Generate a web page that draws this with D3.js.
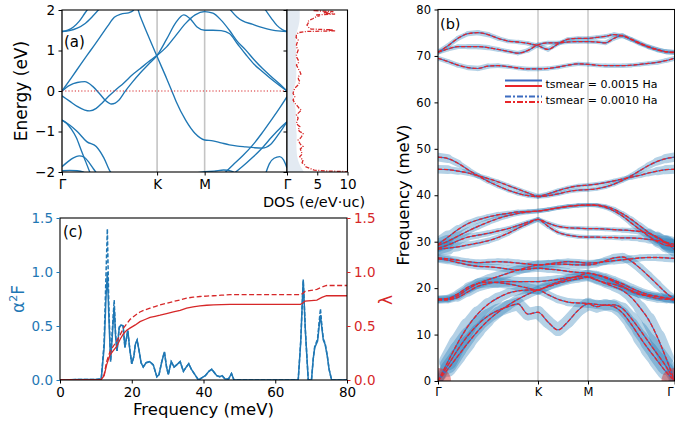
<!DOCTYPE html>
<html><head><meta charset="utf-8">
<script src="https://cdn.jsdelivr.net/npm/d3@7/dist/d3.min.js"></script>
<style>
html,body{margin:0;padding:0;background:#fff;}
svg{display:block;font-family:"DejaVu Sans",sans-serif;}
</style></head><body>
<svg id="fig" width="675" height="430"></svg>
<script>
// ---------------- (a) electronic bands along Γ–K–M–Γ (k in units of |ΓK|) ----------------
const kTicks = [0, 1, 1.5, 2.366];
const kLabels = ["Γ", "K", "M", "Γ"];
const energyTicks = [-2, -1, 0, 1, 2];

const bandA = [[0,0],[0.1,0.33],[0.2,0.67],[0.3,1.0],[0.4,1.33],[0.48,1.6],[0.55,1.82],[0.62,1.9],[0.7,1.93],[0.75,1.99],[0.78,2.1],[0.82,1.86],[0.9,1.4],[1.0,0.85],[1.1,0.31],[1.155,0],[1.2,-0.26],[1.3,-0.72],[1.4,-1.05],[1.5,-1.21],[1.587,-1.23],[1.673,-1.28],[1.76,-1.33],[1.846,-1.36],[1.933,-1.38],[2.02,-1.4],[2.106,-1.41],[2.193,-1.32],[2.28,-1.06],[2.366,-0.76]];
const bandB = [[0,0],[0.08,0.14],[0.16,0.21],[0.24,0.23],[0.32,0.12],[0.4,-0.08],[0.46,-0.24],[0.52,-0.32],[0.6,-0.22],[0.66,-0.02],[0.74,0.22],[0.82,0.44],[0.91,0.66],[1.0,0.88],[1.1,1.28],[1.2,1.7],[1.28,1.88],[1.35,1.78],[1.42,1.58],[1.5,1.5],[1.587,1.5],[1.673,1.49],[1.76,1.42],[1.846,1.16],[1.933,0.9],[2.02,0.66],[2.106,0.48],[2.193,0.31],[2.28,0.15],[2.366,0]];
const bandC = [[0,-0.12],[0.08,-0.25],[0.16,-0.38],[0.24,-0.47],[0.29,-0.49],[0.36,-0.43],[0.42,-0.3],[0.49,-0.13],[0.56,0.02],[0.65,0.2],[0.74,0.4],[0.82,0.55],[0.91,0.72],[1.0,0.88],[1.1,1.09],[1.2,1.38],[1.3,1.67],[1.4,1.88],[1.5,1.96],[1.587,1.92],[1.673,1.75],[1.76,1.5],[1.846,1.22],[1.933,1.01],[2.02,0.77],[2.106,0.56],[2.193,0.37],[2.28,0.19],[2.366,0]];
const bandD = [[1.74,2.1],[1.78,1.98],[1.84,1.83],[1.9,1.73],[2.0,1.65],[2.1,1.57],[2.2,1.51],[2.3,1.48],[2.366,1.47]];
const bandE = [[2.1,2.15],[2.14,2.0],[2.2,1.8],[2.26,1.62],[2.32,1.51],[2.366,1.47]];
const bandF1 = [[0,1.47],[0.06,1.5],[0.12,1.58],[0.18,1.72],[0.24,1.92],[0.28,2.05]];
const bandF2 = [[0,1.47],[0.08,1.49],[0.16,1.55],[0.24,1.66],[0.32,1.84],[0.39,2.02]];
const bandG1 = [[0,-0.72],[0.05,-0.8],[0.1,-0.95],[0.15,-1.15],[0.2,-1.45],[0.25,-1.75],[0.3,-2.05]];
const bandG2 = [[0,-0.72],[0.08,-0.84],[0.16,-1.0],[0.26,-1.25],[0.36,-1.37],[0.44,-1.65],[0.51,-2.0],[0.53,-2.05]];
const bandH = [[0,-1.87],[0.06,-1.75],[0.12,-1.65],[0.18,-1.6],[0.23,-1.63],[0.28,-1.75],[0.33,-1.92],[0.37,-2.05]];
const bandI = [[0,-1.97],[0.08,-1.96],[0.16,-1.97],[0.22,-2.0],[0.26,-2.05]];
const bandJ = [[1.7,-2.05],[1.8,-1.82],[1.9,-1.6],[2.0,-1.35],[2.1,-1.05],[2.2,-0.72],[2.3,-0.38],[2.366,-0.14]];
const bandK = [[1.8,-2.05],[1.9,-1.86],[2.0,-1.65],[2.1,-1.42],[2.2,-1.15],[2.3,-0.9],[2.366,-0.76]];
const bandL = [[2.14,-2.05],[2.18,-1.8],[2.23,-1.66],[2.29,-1.62],[2.33,-1.7],[2.366,-1.9]];
const bandM = [[1.4,-2.03],[1.5,-1.99],[1.6,-1.98],[1.7,-1.95],[1.78,-1.98],[1.84,-2.05]];
const electronBands = [bandA,bandB,bandC,bandD,bandE,bandF1,bandF2,bandG1,bandG2,bandH,bandI,bandJ,bandK,bandL,bandM];

// density of states (energy, e/eV·uc)
const dosCurve = [[-2.0,10.2],[-1.99,9.9],[-1.975,6.5],[-1.955,4.5],[-1.91,3.78],[-1.87,3.1],[-1.83,2.95],[-1.77,2.5],[-1.7,2.67],[-1.66,2.3],[-1.62,2.12],[-1.56,2.5],[-1.5,2.39],[-1.43,2.2],[-1.37,2.67],[-1.33,2.3],[-1.29,2.12],[-1.21,1.84],[-1.17,2.2],[-1.13,2.39],[-1.05,2.67],[-1.0,2.1],[-0.96,1.84],[-0.88,2.12],[-0.84,1.8],[-0.8,1.56],[-0.73,1.7],[-0.67,1.84],[-0.59,1.56],[-0.51,2.12],[-0.47,2.39],[-0.43,2.0],[-0.39,1.84],[-0.3,1.28],[-0.22,1.0],[-0.14,1.28],[-0.06,1.0],[0.0,1.1],[0.07,1.28],[0.15,1.84],[0.23,2.12],[0.29,1.9],[0.35,1.84],[0.42,2.3],[0.48,2.12],[0.56,1.84],[0.64,1.56],[0.7,1.9],[0.77,1.84],[0.83,1.6],[0.89,1.56],[0.95,1.7],[1.01,1.84],[1.08,1.6],[1.14,1.56],[1.2,1.7],[1.26,1.84],[1.32,1.5],[1.38,1.56],[1.44,1.84],[1.47,3.2],[1.485,7.95],[1.5,7.0],[1.51,7.6],[1.53,4.0],[1.55,3.7],[1.59,3.5],[1.63,3.3],[1.67,3.5],[1.71,3.4],[1.75,3.78],[1.79,4.34],[1.83,4.8],[1.86,5.45],[1.88,4.7],[1.9,7.95],[1.92,6.5],[1.935,6.0],[1.95,7.2],[1.96,7.67],[1.975,5.5],[1.985,4.34],[2.0,5.0]];
const dosShade = [[-2.0,2.8],[-1.95,2.6],[-1.85,2.2],[-1.7,1.8],[-1.5,1.6],[-1.3,1.55],[-1.1,1.6],[-0.9,1.5],[-0.7,1.45],[-0.5,1.45],[-0.35,1.3],[-0.2,1.0],[0.0,1.05],[0.2,1.4],[0.4,1.55],[0.7,1.5],[1.0,1.5],[1.3,1.45],[1.45,1.6],[1.6,1.9],[1.8,2.1],[2.0,2.1]];
const dosTicks = [5, 10];

// ---------------- (c) Eliashberg function and cumulative coupling ----------------
const freqTicks = [0, 20, 40, 60, 80];
const a2fTicks = [0, 0.5, 1.0, 1.5];
const a2fSolid = [[0,0],[5,0.005],[10,0.005],[11.5,0.01],[12.3,0.3],[12.8,0.75],[13.2,1.0],[13.6,0.6],[14.1,0.17],[14.6,0.42],[15.1,0.68],[15.5,0.4],[15.9,0.27],[16.5,0.48],[17.0,0.51],[17.6,0.5],[18.1,0.3],[18.5,0.38],[18.9,0.46],[19.4,0.3],[20.0,0.15],[20.6,0.22],[21.0,0.33],[21.5,0.37],[22.0,0.28],[22.6,0.16],[23.2,0.12],[24.0,0.16],[25.0,0.17],[26.0,0.14],[27.0,0.03],[27.6,0.05],[28.3,0.16],[29.1,0.26],[29.7,0.12],[30.2,0.05],[31.0,0.17],[31.8,0.12],[32.5,0.14],[33.5,0.17],[34.4,0.08],[35.2,0.12],[35.9,0.15],[36.6,0.1],[37.6,0.05],[38.6,0.0],[39.5,0.02],[40.5,0.04],[41.5,0.08],[42.3,0.1],[43.0,0.07],[43.7,0.04],[44.5,0.03],[45.2,0.04],[46.0,0.01],[47.0,0.01],[47.8,0.06],[48.5,0.0],[66.4,0.0],[67.1,0.35],[67.8,0.93],[68.4,0.45],[69.2,0.0],[70.1,0.0],[70.6,0.2],[71.0,0.3],[71.8,0.36],[72.3,0.52],[72.6,0.6],[73.0,0.48],[73.4,0.37],[73.9,0.33],[74.5,0.22],[75.0,0.1],[75.7,0.0],[80,0]];
const a2fDashed = [[0,0],[5,0.005],[10,0.005],[11.5,0.01],[12.3,0.35],[12.8,0.95],[13.2,1.4],[13.6,0.7],[14.1,0.18],[14.6,0.47],[15.1,0.74],[15.5,0.42],[15.9,0.27],[16.5,0.49],[17.0,0.51],[17.6,0.5],[18.1,0.3],[18.5,0.38],[18.9,0.46],[19.4,0.3],[20.0,0.15],[20.6,0.22],[21.0,0.33],[21.5,0.37],[22.0,0.28],[22.6,0.16],[23.2,0.12],[24.0,0.16],[25.0,0.17],[26.0,0.14],[27.0,0.03],[27.6,0.05],[28.3,0.16],[29.1,0.26],[29.7,0.12],[30.2,0.05],[31.0,0.17],[31.8,0.12],[32.5,0.14],[33.5,0.17],[34.4,0.08],[35.2,0.12],[35.9,0.15],[36.6,0.1],[37.6,0.05],[38.6,0.0],[39.5,0.02],[40.5,0.04],[41.5,0.08],[42.3,0.1],[43.0,0.07],[43.7,0.04],[44.5,0.03],[45.2,0.04],[46.0,0.01],[47.0,0.01],[47.8,0.06],[48.5,0.0],[66.4,0.0],[67.1,0.36],[67.8,0.92],[68.4,0.46],[69.2,0.0],[70.1,0.0],[70.6,0.2],[71.0,0.31],[71.8,0.38],[72.3,0.56],[72.6,0.66],[73.0,0.5],[73.4,0.38],[73.9,0.34],[74.5,0.23],[75.0,0.1],[75.7,0.0],[80,0]];
const lambdaSolid = [[0,0],[10,0.0],[11.5,0.005],[12.3,0.04],[13.0,0.14],[13.9,0.23],[14.8,0.27],[15.8,0.31],[16.8,0.38],[17.7,0.43],[18.6,0.46],[19.5,0.48],[21.0,0.51],[22.3,0.54],[23.7,0.56],[25.1,0.58],[26.5,0.59],[27.9,0.6],[29.7,0.615],[31.6,0.63],[33.5,0.645],[35.3,0.665],[37.1,0.677],[39.0,0.687],[40.9,0.692],[42.8,0.696],[45.0,0.698],[47.4,0.7],[60,0.7],[67.0,0.7],[67.6,0.71],[68.3,0.73],[70,0.735],[71.6,0.74],[73.0,0.765],[74.3,0.78],[80,0.78]];
const lambdaDashed = [[0,0],[10,0],[11.5,0.005],[12.3,0.05],[13.0,0.17],[13.9,0.26],[14.8,0.31],[15.8,0.36],[16.8,0.42],[17.7,0.48],[18.6,0.52],[19.5,0.56],[21.0,0.6],[22.3,0.63],[23.7,0.65],[25.1,0.665],[26.5,0.68],[27.9,0.696],[29.7,0.71],[31.6,0.727],[33.5,0.742],[35.3,0.758],[37.1,0.767],[39.0,0.773],[40.9,0.777],[42.8,0.78],[45,0.785],[47.4,0.79],[60,0.79],[67.0,0.79],[67.6,0.8],[68.3,0.82],[70,0.83],[71.6,0.84],[73,0.86],[74.3,0.875],[80,0.875]];

// ---------------- (b) phonon dispersion with mode-resolved coupling ----------------
const qPath = [0,0.1,0.2,0.3,0.4,0.5,0.6,0.7,0.8,0.9,1.0,1.1,1.2,1.3,1.4,1.5,1.587,1.673,1.76,1.846,1.933,2.02,2.106,2.193,2.279,2.366];
const phononTicks = [0,10,20,30,40,50,60,70,80];

const phP1 = [70.8,72.2,73.8,74.8,75.0,74.6,73.8,73.2,73.0,72.7,72.2,71.4,72.6,73.6,73.8,73.8,74.0,74.2,74.6,74.3,73.6,72.8,72.0,71.4,70.9,70.8];
const phP2 = [70.8,71.5,72.0,72.0,72.0,71.8,71.4,71.0,70.6,71.2,72.4,72.8,72.8,73.0,73.1,73.1,73.0,72.8,73.8,74.4,73.5,72.6,71.9,71.3,70.9,70.7];
const phP3 = [69.5,68.8,68.0,67.5,67.3,67.8,67.9,67.7,67.4,67.2,67.2,67.3,67.6,68.0,68.3,68.2,68.0,67.9,67.9,67.9,68.0,68.2,68.4,68.6,69.0,69.5];
const phQ1 = [48.2,47.9,46.9,45.5,44.2,43.0,42.0,41.1,40.4,39.9,39.7,39.9,40.3,40.8,41.1,41.2,41.4,41.8,42.4,43.2,44.2,45.3,46.4,47.3,47.9,48.2];
const phQ2 = [45.6,45.5,45.2,44.8,44.2,43.6,42.9,42.1,41.3,40.5,39.8,40.3,41.0,41.6,42.0,42.2,42.4,42.7,43.1,43.5,43.9,44.3,44.8,45.2,45.5,45.6];
const phR1 = [29.4,31.0,32.6,33.9,34.7,35.3,35.8,36.1,36.4,36.5,36.6,36.9,37.3,37.6,37.8,37.9,37.9,37.6,37.0,36.0,34.8,33.4,32.0,30.8,29.9,29.4];
const phR2 = [29.2,30.1,31.2,32.3,33.3,34.2,35.0,35.6,36.1,36.4,36.6,36.9,37.3,37.6,37.8,37.9,37.8,37.4,36.6,35.5,34.0,32.6,31.2,30.0,29.2,29.0];
const phR3 = [28.6,29.3,30.2,31.0,31.4,31.8,32.3,32.8,33.5,34.2,34.8,34.0,33.3,33.0,32.9,32.8,32.8,32.7,32.6,32.5,32.4,32.2,31.8,31.0,29.8,28.3];
const phR4 = [28.4,28.6,28.9,29.3,29.7,30.2,30.9,31.8,32.9,33.9,34.8,33.3,32.0,31.4,31.1,31.0,31.0,30.9,30.9,30.8,30.8,30.7,30.5,30.3,29.7,29.0];
const phS1 = [26.5,26.3,26.0,25.7,25.5,25.6,25.7,25.6,25.4,25.2,25.0,25.2,25.5,25.7,25.6,25.4,25.5,25.7,25.9,26.1,26.3,26.5,26.6,26.6,26.5,26.4];
const phS2 = [26.3,26.0,25.5,25.0,24.7,24.6,24.4,24.1,23.9,24.1,24.3,24.1,23.9,23.6,23.4,23.2,22.8,22.2,21.4,20.4,19.3,18.6,18.4,18.2,17.8,17.5];
const phX = [17.6,17.7,18.4,19.8,21.0,21.8,22.5,23.2,23.9,24.5,25.0,25.1,25.2,25.1,25.0,25.0,25.3,25.9,26.5,26.7,25.8,24.3,22.6,20.8,19.0,17.6];
const phO1 = [17.4,17.5,18.0,19.2,20.4,21.0,21.3,21.4,21.4,21.4,21.4,21.6,21.9,22.2,22.4,22.5,21.8,21.2,20.8,20.2,19.5,18.8,18.2,17.8,17.6,17.5];
const phO2 = [17.6,17.8,18.8,20.2,21.0,21.3,21.2,20.9,20.5,20.0,19.6,20.5,21.3,22.0,22.6,23.2,22.9,22.4,21.7,20.9,20.0,19.2,18.6,18.2,17.9,17.6];
const phA1 = [0,4.2,8.3,11.8,14.5,16.5,17.9,18.9,19.4,19.6,19.6,18.6,17.6,17.0,16.8,16.7,16.5,16.3,16.4,15.6,13.5,11.0,8.4,5.8,3.2,0];
const phA2 = [0,3.4,6.8,9.8,12.2,14.0,15.2,16.0,16.6,14.4,14.8,12.7,11.0,12.8,15.2,16.6,16.0,16.4,16.0,14.6,12.2,9.4,6.8,4.4,2.0,0];
const phA3 = [0,2.6,5.4,8.2,10.8,13.0,14.8,16.3,17.6,18.7,19.6,20.3,21.0,21.6,22.0,22.3,21.7,21.0,20.3,19.5,18.0,15.8,13.2,9.5,5.0,0];

// mode coupling strength λ_qν (arbitrary units, sets the bubble size)
const lamHigh = [0.24,0.22,0.22,0.24,0.26,0.24,0.22,0.2,0.2,0.22,0.22,0.2,0.2,0.2,0.2,0.2,0.2,0.2,0.22,0.22,0.2,0.2,0.2,0.22,0.22,0.24];
const lamQ = [0.45,0.38,0.3,0.26,0.24,0.22,0.2,0.2,0.2,0.2,0.22,0.2,0.2,0.2,0.2,0.2,0.2,0.2,0.2,0.22,0.24,0.26,0.3,0.36,0.42,0.46];
const lamR = [0.75,0.5,0.38,0.32,0.3,0.28,0.26,0.24,0.22,0.22,0.22,0.2,0.2,0.2,0.2,0.2,0.2,0.2,0.22,0.24,0.26,0.3,0.36,0.45,0.6,0.75];
const lamS = [0.4,0.35,0.32,0.3,0.3,0.3,0.32,0.34,0.34,0.34,0.36,0.34,0.32,0.3,0.3,0.3,0.3,0.32,0.34,0.36,0.34,0.32,0.32,0.34,0.38,0.4];
const lamO = [0.35,0.32,0.35,0.42,0.48,0.5,0.48,0.46,0.45,0.45,0.45,0.42,0.4,0.38,0.36,0.35,0.35,0.36,0.38,0.4,0.42,0.42,0.42,0.4,0.38,0.35];
const lamA1 = [0,0.85,0.85,0.75,0.65,0.55,0.48,0.42,0.38,0.36,0.35,0.35,0.36,0.38,0.4,0.42,0.42,0.45,0.5,0.55,0.62,0.7,0.78,0.85,0.85,0];
const lamA2 = [0,0.8,0.8,0.75,0.7,0.66,0.62,0.6,0.6,0.6,0.6,0.58,0.58,0.6,0.6,0.58,0.55,0.55,0.55,0.55,0.6,0.68,0.75,0.8,0.85,0];
const lamA3 = [0,0.75,0.75,0.7,0.62,0.55,0.5,0.45,0.42,0.4,0.38,0.35,0.35,0.35,0.35,0.35,0.38,0.4,0.42,0.45,0.5,0.58,0.65,0.72,0.8,0];
// acoustic modes at Γ (zero frequency) with divergent weight
const gammaAcoustic = [{q:0, w:0, lam:1.25}, {q:2.366, w:0, lam:1.25}];

const branches = [
  {w:phP1, lam:lamHigh},{w:phP2, lam:lamHigh},{w:phP3, lam:lamHigh},
  {w:phQ1, lam:lamQ},{w:phQ2, lam:lamQ},
  {w:phR1, lam:lamR},{w:phR2, lam:lamR},{w:phR3, lam:lamR},{w:phR4, lam:lamR},
  {w:phS1, lam:lamS},{w:phS2, lam:lamS},{w:phX, lam:lamO},{w:phO1, lam:lamO},{w:phO2, lam:lamO},
  {w:phA1, lam:lamA1},{w:phA2, lam:lamA2},{w:phA3, lam:lamA3}
];
const legendLabels = ["tsmear = 0.0015 Ha", "tsmear = 0.0010 Ha"];

// ---------------- drawing ----------------
const svg = d3.select("#fig");
const defs = svg.append("defs");
const FONT = "DejaVu Sans";
const bandBlue = "#1f77b4", red = "#d62728";
const lineBlue = "#3d6cc0", lineRed = "#e8262a";

function addClip(id, x0, y0, x1, y1) {
  defs.append("clipPath").attr("id", id).append("rect")
    .attr("x", x0).attr("y", y0).attr("width", x1 - x0).attr("height", y1 - y0);
}
function styleAxis(g, size, color) {
  g.attr("font-family", FONT).attr("font-size", size);
  g.select(".domain").remove();
  g.selectAll(".tick line").attr("stroke", color).attr("stroke-width", 1);
  g.selectAll(".tick text").attr("fill", color);
}
function frame(x0, y0, x1, y1) {
  svg.append("rect").attr("x", x0).attr("y", y0).attr("width", x1 - x0).attr("height", y1 - y0)
    .attr("fill", "none").attr("stroke", "#000").attr("stroke-width", 1.1);
}

// ---- panel (a)
const xA = d3.scaleLinear([0, 2.366], [62, 287]);
const yA = d3.scaleLinear([-2, 2], [172, 10]);
addClip("clipA", 62, 10, 287, 172);
const gA = svg.append("g");
gA.selectAll("line.sym").data(kTicks).join("line")
  .attr("x1", d => xA(d)).attr("x2", d => xA(d)).attr("y1", 10).attr("y2", 172)
  .attr("stroke", "#c4c4c4").attr("stroke-width", 1.6);
const bandLine = d3.line().x(d => xA(d[0])).y(d => yA(d[1])).curve(d3.curveMonotoneX);
gA.append("g").attr("clip-path", "url(#clipA)").selectAll("path").data(electronBands).join("path")
  .attr("d", bandLine).attr("fill", "none").attr("stroke", bandBlue).attr("stroke-width", 1.35);
gA.append("line").attr("x1", xA(0)).attr("x2", xA(2.366)).attr("y1", yA(0)).attr("y2", yA(0))
  .attr("stroke", red).attr("stroke-width", 1.1).attr("stroke-dasharray", "1.2,2");
frame(62, 10, 287, 172);
styleAxis(svg.append("g").attr("transform", "translate(62,0)")
  .call(d3.axisLeft(yA).tickValues(energyTicks).tickFormat(d3.format("d")).tickSize(3.5).tickPadding(3.5)), 13.5, "#000");
styleAxis(svg.append("g").attr("transform", "translate(0,172)")
  .call(d3.axisBottom(xA).tickValues(kTicks).tickFormat((d, i) => kLabels[i]).tickSize(3.5).tickPadding(3.5)), 13.5, "#000");

// DOS side panel
const xD = d3.scaleLinear([0, 10], [287, 347.5]);
addClip("clipD", 287, 10, 347.5, 172);
const gD = svg.append("g").attr("clip-path", "url(#clipD)");
gD.append("path").datum(dosShade)
  .attr("d", d3.area().y(d => yA(d[0])).x0(xD(0)).x1(d => xD(d[1])).curve(d3.curveMonotoneY))
  .attr("fill", "#e3eaf2");
gD.append("path").datum(dosCurve)
  .attr("d", d3.line().x(d => xD(d[1])).y(d => yA(d[0])))
  .attr("fill", "none").attr("stroke", red).attr("stroke-width", 1.3).attr("stroke-dasharray", "4,1.5,1,1.5");
frame(287, 10, 347.5, 172);
styleAxis(svg.append("g").attr("transform", "translate(287,0)")
  .call(d3.axisLeft(yA).tickValues(energyTicks).tickFormat("").tickSize(3.5)), 13.5, "#000");
styleAxis(svg.append("g").attr("transform", "translate(0,172)")
  .call(d3.axisBottom(xD).tickValues(dosTicks).tickSize(3.5).tickPadding(3.5)), 13.5, "#000");

svg.append("text").attr("transform", "translate(27,91) rotate(-90)").attr("text-anchor", "middle")
  .attr("font-family", FONT).attr("font-size", 17).text("Energy (eV)");
svg.append("text").attr("x", 314).attr("y", 207).attr("text-anchor", "middle")
  .attr("font-family", FONT).attr("font-size", 14.5).text("DOS (e/eV·uc)");
svg.append("text").attr("x", 64).attr("y", 47).attr("font-family", FONT).attr("font-size", 15).text("(a)");

// ---- panel (c)
const xC = d3.scaleLinear([0, 80], [60, 347]);
const yC = d3.scaleLinear([0, 1.5], [380, 218]);
addClip("clipC", 60, 218, 347, 380);
const gC = svg.append("g").attr("clip-path", "url(#clipC)");
const lineC = d3.line().x(d => xC(d[0])).y(d => yC(d[1]));
gC.append("path").datum(a2fDashed).attr("d", lineC).attr("fill", "none")
  .attr("stroke", bandBlue).attr("stroke-width", 1.5).attr("stroke-dasharray", "4,2");
gC.append("path").datum(a2fSolid).attr("d", lineC).attr("fill", "none")
  .attr("stroke", bandBlue).attr("stroke-width", 1.5);
gC.append("path").datum(lambdaDashed).attr("d", lineC).attr("fill", "none")
  .attr("stroke", red).attr("stroke-width", 1.3).attr("stroke-dasharray", "5,2.5");
gC.append("path").datum(lambdaSolid).attr("d", lineC).attr("fill", "none")
  .attr("stroke", red).attr("stroke-width", 1.3);
frame(60, 218, 347, 380);
styleAxis(svg.append("g").attr("transform", "translate(60,0)")
  .call(d3.axisLeft(yC).tickValues(a2fTicks).tickFormat(d3.format(".1f")).tickSize(3.5).tickPadding(3.5)), 13.5, bandBlue);
styleAxis(svg.append("g").attr("transform", "translate(347,0)")
  .call(d3.axisRight(yC).tickValues(a2fTicks).tickFormat(d3.format(".1f")).tickSize(3.5).tickPadding(3.5)), 13.5, red);
styleAxis(svg.append("g").attr("transform", "translate(0,380)")
  .call(d3.axisBottom(xC).tickValues(freqTicks).tickSize(3.5).tickPadding(3.5)), 13.5, "#000");
const a2fLabel = svg.append("text").attr("transform", "translate(24,299) rotate(-90)").attr("text-anchor", "middle")
  .attr("font-family", FONT).attr("font-size", 17).attr("fill", bandBlue);
a2fLabel.append("tspan").text("α");
a2fLabel.append("tspan").attr("font-size", 11).attr("dy", -7).text("2");
a2fLabel.append("tspan").attr("dy", 7).text("F");
svg.append("text").attr("transform", "translate(392,300) rotate(-90)").attr("text-anchor", "middle")
  .attr("font-family", FONT).attr("font-size", 17).attr("fill", red).text("λ");
svg.append("text").attr("x", 203.5).attr("y", 415).attr("text-anchor", "middle")
  .attr("font-family", FONT).attr("font-size", 16.5).text("Frequency (meV)");
svg.append("text").attr("x", 63).attr("y", 237).attr("font-family", FONT).attr("font-size", 15).text("(c)");

// ---- panel (b)
const xB = d3.scaleLinear([0, 2.366], [438, 674.6]);
const yB = d3.scaleLinear([0, 80], [381, 9.5]);
const rB = d3.scaleLinear([0, 1], [0, 10.5]);
addClip("clipB", 438, 9.5, 674.6, 381);
const gB = svg.append("g");
gB.selectAll("line.sym").data(kTicks.slice(1, 3)).join("line")
  .attr("x1", d => xB(d)).attr("x2", d => xB(d)).attr("y1", 9.5).attr("y2", 381)
  .attr("stroke", "#b4b4b4").attr("stroke-width", 1.1);
const plotB = gB.append("g").attr("clip-path", "url(#clipB)");
// coupling halos: one translucent layer per branch, segment width from λ_qν
branches.forEach(b => {
  const segs = d3.range(qPath.length - 1);
  plotB.append("g").attr("opacity", 0.33).selectAll("line").data(segs).join("line")
    .attr("x1", i => xB(qPath[i])).attr("y1", i => yB(b.w[i]))
    .attr("x2", i => xB(qPath[i + 1])).attr("y2", i => yB(b.w[i + 1]))
    .attr("stroke", bandBlue).attr("stroke-linecap", "round")
    .attr("stroke-width", i => rB(b.lam[i]) + rB(b.lam[i + 1]));
});
plotB.selectAll("circle.gam").data(gammaAcoustic).join("circle")
  .attr("cx", d => xB(d.q)).attr("cy", d => yB(d.w)).attr("r", d => rB(d.lam))
  .attr("fill", red).attr("opacity", 0.45);
const phLine = d3.line().x((d, i) => xB(qPath[i])).y(d => yB(d)).curve(d3.curveMonotoneX);
plotB.append("g").selectAll("path").data(branches).join("path")
  .attr("d", b => phLine(b.w)).attr("fill", "none").attr("stroke", lineBlue).attr("stroke-width", 1.2);
plotB.append("g").selectAll("path").data(branches).join("path")
  .attr("d", b => phLine(b.w)).attr("fill", "none").attr("stroke", lineRed).attr("stroke-width", 1.3)
  .attr("stroke-dasharray", "4,2");
frame(438, 9.5, 674.6, 381);
styleAxis(svg.append("g").attr("transform", "translate(438,0)")
  .call(d3.axisLeft(yB).tickValues(phononTicks).tickSize(3.5).tickPadding(3.5)), 11.5, "#000");
const axB = svg.append("g").attr("transform", "translate(0,381)")
  .call(d3.axisBottom(xB).tickValues(kTicks).tickFormat((d, i) => kLabels[i]).tickSize(3.5).tickPadding(3.5));
styleAxis(axB, 11.5, "#000");
// the last Γ sits on the figure edge: keep it inside
axB.selectAll(".tick text").filter((d, i) => i === kTicks.length - 1).attr("text-anchor", "end").attr("dx", -1.5);
svg.append("text").attr("transform", "translate(409,195) rotate(-90)").attr("text-anchor", "middle")
  .attr("font-family", FONT).attr("font-size", 16.5).text("Frequency (meV)");
svg.append("text").attr("x", 440).attr("y", 29).attr("font-family", FONT).attr("font-size", 14.5).text("(b)");

// legend
const leg = svg.append("g").attr("transform", "translate(505,80.5)");
legendLabels.forEach((lab, i) => {
  const y0 = i * 16;
  const dash = i === 0 ? null : "6,2,2,2";
  leg.append("line").attr("x1", 0).attr("x2", 37).attr("y1", y0).attr("y2", y0)
    .attr("stroke", lineBlue).attr("stroke-width", 1.8).attr("stroke-dasharray", dash);
  leg.append("line").attr("x1", 0).attr("x2", 37).attr("y1", y0 + 5.5).attr("y2", y0 + 5.5)
    .attr("stroke", lineRed).attr("stroke-width", 1.8).attr("stroke-dasharray", dash);
  leg.append("text").attr("x", 40.5).attr("y", y0 + 7).attr("font-family", FONT).attr("font-size", 11).text(lab);
});
</script></body></html>
